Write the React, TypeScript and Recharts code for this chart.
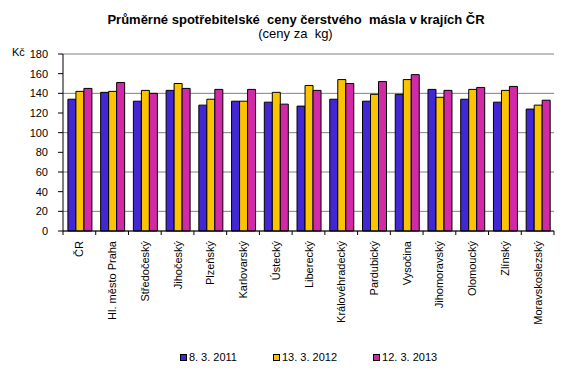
import { Bar, BarChart, CartesianGrid, XAxis, YAxis } from "recharts";

const regions = [
  "ČR",
  "Hl. město Praha",
  "Středočeský",
  "Jihočeský",
  "Plzeňský",
  "Karlovarský",
  "Ústecký",
  "Liberecký",
  "Královéhradecký",
  "Pardubický",
  "Vysočina",
  "Jihomoravský",
  "Olomoucký",
  "Zlínský",
  "Moravskoslezský"
];
const prices2011 = [134, 141, 132, 143, 128, 132, 131, 127, 134, 132, 139, 144, 134, 131, 124];
const prices2012 = [142, 142, 143, 150, 134, 132, 141, 148, 154, 139, 154, 136, 144, 143, 128];
const prices2013 = [145, 151, 140, 145, 144, 144, 129, 143, 150, 152, 159, 143, 146, 147, 133];
const yTicks = [0, 20, 40, 60, 80, 100, 120, 140, 160, 180];

const series = [
  { key: "y2011", label: "8. 3. 2011", color: "#4228d4" },
  { key: "y2012", label: "13. 3. 2012", color: "#fbc300" },
  { key: "y2013", label: "12. 3. 2013", color: "#d22aa6" }
];

const data = regions.map((name, i) => ({
  name,
  y2011: prices2011[i],
  y2012: prices2012[i],
  y2013: prices2013[i]
}));

const font = "'Liberation Sans', Arial, sans-serif";
const W = 569;
const H = 387;
const margin = { top: 54, right: 15, bottom: 30, left: 10 };
const yAxisWidth = 53;
const plotWidth = W - margin.left - margin.right - yAxisWidth;
const band = plotWidth / regions.length;

function RegionTick(props: any) {
  const { x, y, payload, index } = props;
  const last = index === regions.length - 1;
  return (
    <g transform={`translate(${x},${y})`}>
      <line x1={-band / 2} y1={0} x2={-band / 2} y2={4} stroke="#000" />
      {last && <line x1={band / 2} y1={0} x2={band / 2} y2={4} stroke="#000" />}
      <text
        transform="rotate(-90)"
        x={-10}
        y={0}
        dy={4}
        textAnchor="end"
        fontSize={11}
        fontFamily={font}
        fill="#000"
      >
        {payload.value}
      </text>
    </g>
  );
}

export default function App() {
  return (
    <div style={{ position: "absolute", left: 0, top: 0, width: W, height: H, background: "#fff", fontFamily: font }}>
      <div style={{ position: "absolute", left: 0, top: 13, width: 592, textAlign: "center", fontSize: 13, fontWeight: "bold", lineHeight: "14px", whiteSpace: "pre" }}>
        {"Průměrné spotřebitelské  ceny čerstvého  másla v krajích ČR"}
      </div>
      <div style={{ position: "absolute", left: 0, top: 26.5, width: 591, textAlign: "center", fontSize: 13, lineHeight: "14px", whiteSpace: "pre" }}>
        {"(ceny za  kg)"}
      </div>
      <div style={{ position: "absolute", left: 12, top: 46, fontSize: 11, lineHeight: "normal" }}>Kč</div>
      <BarChart width={W} height={H} data={data} margin={margin} barCategoryGap="15%" barGap={0}>
        <CartesianGrid stroke="#808080" vertical={false} />
        <XAxis
          dataKey="name"
          interval={0}
          height={126}
          tickSize={0}
          tickMargin={0}
          tickLine={false}
          axisLine={{ stroke: "#000" }}
          tick={<RegionTick />}
        />
        <XAxis xAxisId="top" orientation="top" dataKey="name" height={0} tick={false} tickLine={false} axisLine={{ stroke: "#000" }} />
        <YAxis
          domain={[0, 180]}
          ticks={yTicks}
          width={yAxisWidth}
          tickSize={5}
          tickMargin={10}
          axisLine={{ stroke: "#000" }}
          tickLine={{ stroke: "#000" }}
          tick={{ fontSize: 11, fill: "#000", fontFamily: font }}
        />
        <YAxis yAxisId="right" orientation="right" domain={[0, 180]} width={0} tick={false} tickLine={false} axisLine={{ stroke: "#000" }} />
        {series.map((s) => (
          <Bar key={s.key} dataKey={s.key} fill={s.color} stroke="#000" strokeWidth={1} isAnimationActive={false} />
        ))}
      </BarChart>
      <div
        style={{
          position: "absolute",
          left: margin.left + yAxisWidth,
          width: plotWidth,
          top: 350,
          display: "flex",
          justifyContent: "center",
          gap: 36,
          fontSize: 11,
          lineHeight: "14px"
        }}
      >
        {series.map((s) => (
          <div key={s.key} style={{ display: "flex", alignItems: "center" }}>
            <span style={{ display: "inline-block", width: 5, height: 5, background: s.color, border: "1px solid #000", marginRight: 2 }} />
            <span>{s.label}</span>
          </div>
        ))}
      </div>
    </div>
  );
}
